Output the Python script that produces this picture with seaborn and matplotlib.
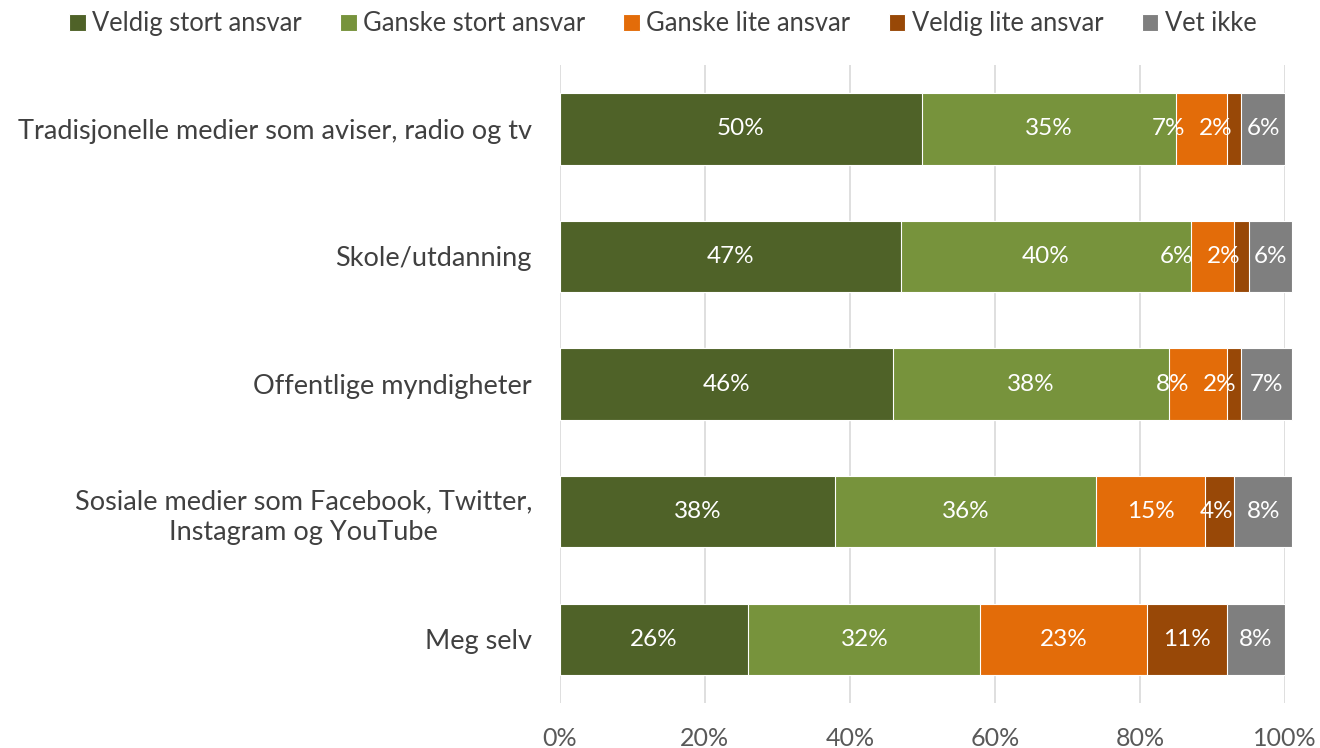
import numpy as np
import pandas as pd
import seaborn as sns
import matplotlib.pyplot as plt

# Categories and answer values (percent)
categories = [
    'Tradisjonelle medier som aviser, radio og tv',
    'Skole/utdanning',
    'Offentlige myndigheter',
    'Sosiale medier som Facebook, Twitter,\nInstagram og YouTube',
    'Meg selv',
]
series_names = ['Veldig stort ansvar', 'Ganske stort ansvar', 'Ganske lite ansvar',
                'Veldig lite ansvar', 'Vet ikke']
veldig_stort = [50, 47, 46, 38, 26]
ganske_stort = [35, 40, 38, 36, 32]
ganske_lite = [7, 6, 8, 15, 23]
veldig_lite = [2, 2, 2, 4, 11]
vet_ikke = [6, 6, 7, 8, 8]
colors = ['#4F6228', '#77933C', '#E36C09', '#984807', '#7F7F7F']
xticks = [0, 20, 40, 60, 80, 100]

sns.set_theme(style='white')
plt.rcParams['font.family'] = ['Lato', 'DejaVu Sans']

df = pd.DataFrame({'Kategori': categories})
values = [veldig_stort, ganske_stort, ganske_lite, veldig_lite, vet_ikke]
for name, vals in zip(series_names, values):
    df[name] = vals
cum = df[series_names].cumsum(axis=1)

fig, ax = plt.subplots(figsize=(13.2, 7.48), dpi=100)
fig.subplots_adjust(left=0.424, right=0.9735, top=0.913, bottom=0.06)

# draw cumulative bars from the total down so each segment shows
for i in reversed(range(len(series_names))):
    sns.barplot(x=cum[series_names[i]], y=df['Kategori'], color=colors[i], orient='h',
                width=0.56, ax=ax, edgecolor='white', linewidth=0.8, saturation=1,
                label=series_names[i])
for p in ax.patches:
    p.set_clip_on(False)

# segment labels, nudged left when neighbours are too close (like Excel does)
min_gap = 6.5
for r in range(len(categories)):
    vals = [df.loc[r, n] for n in series_names]
    centers = list(np.cumsum(vals) - np.array(vals) / 2)
    xs = centers[:]
    for i in range(len(xs) - 2, -1, -1):
        xs[i] = min(centers[i], xs[i + 1] - min_gap)
    for v, x in zip(vals, xs):
        ax.text(x, r, f'{v}%', ha='center', va='center', color='white', fontsize=17.5)

ax.set_xlim(0, 100)
ax.set_ylim(4.5, -0.5)
ax.set_xticks(xticks)
ax.set_xticklabels([f'{t}%' for t in xticks], fontsize=18, color='#595959')
ax.tick_params(axis='x', length=0, pad=17)
ax.tick_params(axis='y', length=0, pad=20)
ax.set_yticklabels(categories, fontsize=19.5, color='#404040')
for lbl in ax.get_yticklabels():
    lbl.set_multialignment('center')
    lbl.set_linespacing(1.3)
ax.set_xlabel('')
ax.set_ylabel('')
ax.xaxis.grid(True, color='#D9D9D9', linewidth=1.2)
ax.set_axisbelow(True)
for s in ax.spines.values():
    s.set_visible(False)

handles, labels = ax.get_legend_handles_labels()
order = [labels.index(n) for n in series_names]
ax.legend([handles[k] for k in order], [labels[k] for k in order],
          loc='upper center', bbox_to_anchor=(0.502, 1.016), bbox_transform=fig.transFigure,
          ncol=5, frameon=False, fontsize=18.4, handlelength=0.65, handleheight=0.65,
          handletextpad=0.25, columnspacing=1.5, labelcolor='#404040')

plt.savefig('out.png', dpi=100)
plt.close()
